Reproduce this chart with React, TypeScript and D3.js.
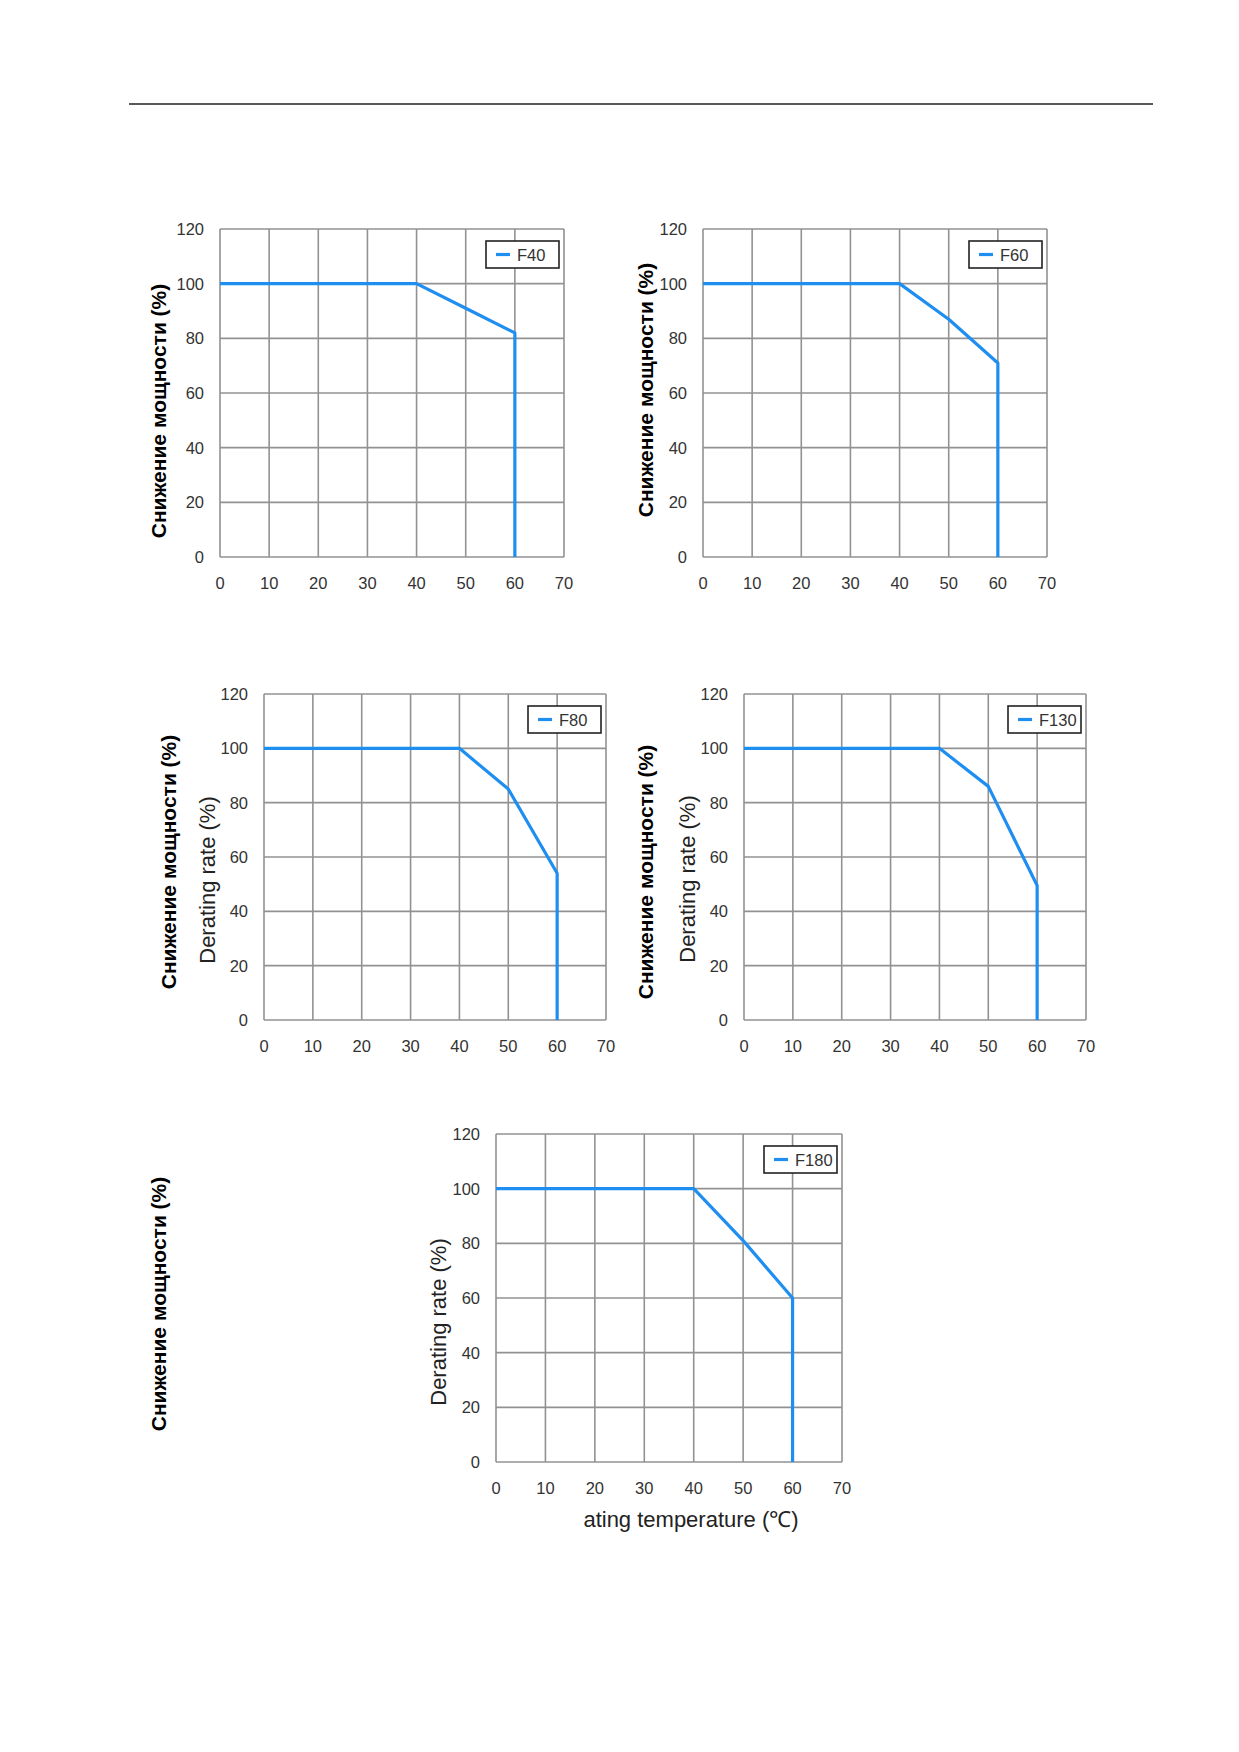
import * as d3 from 'd3'

// --- DATA ---
const tempTicks = [0, 10, 20, 30, 40, 50, 60, 70]
const rateTicks = [0, 20, 40, 60, 80, 100, 120]

// temperature breakpoints shared by every curve (last point drops to 0 at 60)
const temps = [0, 40, 50, 60, 60]

const f40 = [100, 100, 91, 82, 0]
const f60 = [100, 100, 87, 71, 0]
const f80 = [100, 100, 85, 54, 0]
const f130 = [100, 100, 86, 49.5, 0]
const f180 = [100, 100, 81, 60, 0]

const seriesNames = ['F40', 'F60', 'F80', 'F130', 'F180']
const seriesValues = [f40, f60, f80, f130, f180]

const ruLabel = 'Снижение мощности (%)'
const enLabel = 'Derating rate (%)'
const xLabel = 'ating temperature (℃)'

// --- LAYOUT ---
type Pt = { x: number; y: number }
type Panel = {
  x0: number
  x1: number
  y0: number
  y1: number
  ru?: Pt
  en?: Pt
  xl?: Pt
}

const panels: Panel[] = [
  { x0: 220, x1: 564, y0: 229, y1: 557, ru: { x: 158, y: 411 } },
  { x0: 703, x1: 1047, y0: 229, y1: 557, ru: { x: 645, y: 390 } },
  { x0: 264, x1: 606, y0: 694, y1: 1020, ru: { x: 168, y: 862 }, en: { x: 207, y: 880 } },
  { x0: 744, x1: 1086, y0: 694, y1: 1020, ru: { x: 645, y: 872 }, en: { x: 687, y: 879 } },
  { x0: 496, x1: 842, y0: 1134, y1: 1462, en: { x: 438, y: 1322 }, xl: { x: 691, y: 1527 } },
]

const FONT = '"Liberation Sans", Arial, Helvetica, sans-serif'
const BLUE = '#1f8ef1'
const GRID = '#929292'
const TICK = '#333'

function Chart({ p, name, values }: { p: Panel; name: string; values: number[] }) {
  const x = d3.scaleLinear().domain([0, 70]).range([p.x0, p.x1])
  const y = d3.scaleLinear().domain([0, 120]).range([p.y1, p.y0])

  const pts = temps.map((t, i) => [t, values[i]] as [number, number])
  const line = d3
    .line<[number, number]>()
    .x((d) => x(d[0]))
    .y((d) => y(d[1]))

  const boxW = 73
  const boxH = 27
  const bx = p.x1 - 5 - boxW
  const by = p.y0 + 12

  return (
    <g>
      {/* grid */}
      {tempTicks.map((t) => (
        <line key={'gx' + t} x1={x(t)} x2={x(t)} y1={p.y0} y2={p.y1} stroke={GRID} strokeWidth={1.6} />
      ))}
      {rateTicks.map((r) => (
        <line key={'gy' + r} x1={p.x0} x2={p.x1} y1={y(r)} y2={y(r)} stroke={GRID} strokeWidth={1.6} />
      ))}

      {/* tick labels */}
      {rateTicks.map((r) => (
        <text
          key={'ty' + r}
          x={p.x0 - 16}
          y={y(r)}
          textAnchor="end"
          dominantBaseline="central"
          fontSize={16.5}
          fill={TICK}
        >
          {r}
        </text>
      ))}
      {tempTicks.map((t) => (
        <text key={'tx' + t} x={x(t)} y={p.y1 + 32} textAnchor="middle" fontSize={16.5} fill={TICK}>
          {t}
        </text>
      ))}

      {/* curve */}
      <path d={line(pts) || ''} fill="none" stroke={BLUE} strokeWidth={3.2} strokeLinejoin="round" />

      {/* legend */}
      <rect x={bx} y={by} width={boxW} height={boxH} fill="#fff" stroke="#222" strokeWidth={1.6} />
      <line x1={bx + 10} x2={bx + 24} y1={by + boxH / 2} y2={by + boxH / 2} stroke={BLUE} strokeWidth={3.2} />
      <text x={bx + 31} y={by + boxH / 2} dominantBaseline="central" fontSize={16.5} fill={TICK}>
        {name}
      </text>

      {/* axis titles */}
      {p.ru && (
        <text
          transform={`translate(${p.ru.x},${p.ru.y}) rotate(-90)`}
          textAnchor="middle"
          dominantBaseline="central"
          fontSize={21}
          fontWeight="bold"
          fill="#000"
        >
          {ruLabel}
        </text>
      )}
      {p.en && (
        <text
          transform={`translate(${p.en.x},${p.en.y}) rotate(-90)`}
          textAnchor="middle"
          dominantBaseline="central"
          fontSize={22}
          fill="#222"
        >
          {enLabel}
        </text>
      )}
      {p.xl && (
        <text x={p.xl.x} y={p.xl.y} textAnchor="middle" fontSize={22} fill="#222">
          {xLabel}
        </text>
      )}
    </g>
  )
}

export default function App() {
  return (
    <svg
      width={1239}
      height={1752}
      style={{ position: 'absolute', left: 0, top: 0, background: '#fff' }}
      fontFamily={FONT}
    >
      <rect x={0} y={0} width={1239} height={1752} fill="#fff" />
      <line x1={129} x2={1153} y1={104} y2={104} stroke="#222" strokeWidth={1.5} />

      {panels.map((p, i) => (
        <Chart key={seriesNames[i]} p={p} name={seriesNames[i]} values={seriesValues[i]} />
      ))}

      {/* leftover label beside the last chart */}
      <text
        transform="translate(158,1304) rotate(-90)"
        textAnchor="middle"
        dominantBaseline="central"
        fontSize={21}
        fontWeight="bold"
        fill="#000"
      >
        {ruLabel}
      </text>
    </svg>
  )
}
